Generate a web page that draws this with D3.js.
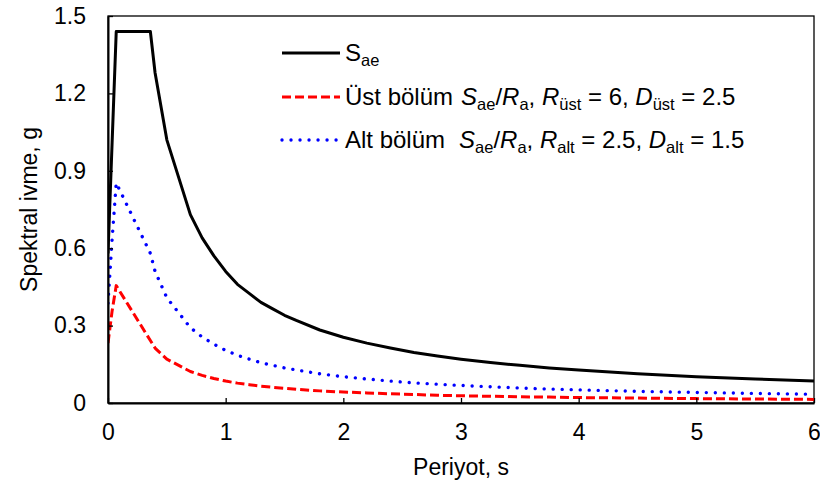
<!DOCTYPE html>
<html>
<head>
<meta charset="utf-8">
<script src="https://cdn.jsdelivr.net/npm/d3@7"></script>
<style>
  html, body { margin: 0; padding: 0; background: #fff; }
  text { font-family: "Liberation Sans", Arial, sans-serif; }
</style>
</head>
<body>
<div id="chart"></div>
<script>
const width = 820;
const height = 485;

// periyot (s)
const periods = [0, 0.035, 0.07, 0.36, 0.4, 0.5, 0.7, 0.8, 0.9, 1.0, 1.1, 1.2, 1.3, 1.4, 1.5, 1.6,
  1.8, 2.0, 2.2, 2.4, 2.6, 2.8, 3.0, 3.25, 3.5, 3.75, 4.0, 4.5, 5.0, 5.5, 6.0];

// Sae
const sae = [0.58, 1.01, 1.44, 1.44, 1.28, 1.02, 0.73, 0.64, 0.57, 0.51, 0.46, 0.425, 0.39, 0.365, 0.34, 0.32,
  0.283, 0.255, 0.232, 0.213, 0.196, 0.182, 0.17, 0.157, 0.146, 0.136, 0.128, 0.113, 0.102, 0.093, 0.085];

// Üst bölüm Sae/Ra
const ust = [0.232, 0.357, 0.455, 0.242, 0.213, 0.17, 0.122, 0.107, 0.095, 0.085, 0.077, 0.071, 0.065, 0.061, 0.057, 0.053,
  0.047, 0.0425, 0.039, 0.0355, 0.033, 0.030, 0.028, 0.026, 0.024, 0.023, 0.021, 0.019, 0.017, 0.0155, 0.014];

// Alt bölüm Sae/Ra
const alt = [0.387, 0.635, 0.853, 0.58, 0.51, 0.408, 0.292, 0.256, 0.228, 0.204, 0.185, 0.17, 0.156, 0.146, 0.136, 0.128,
  0.113, 0.102, 0.093, 0.085, 0.078, 0.073, 0.068, 0.063, 0.058, 0.054, 0.051, 0.045, 0.041, 0.037, 0.034];

const xTicks = [0, 1, 2, 3, 4, 5, 6];
const xTickLabels = ["0", "1", "2", "3", "4", "5", "6"];
const yTicks = [0, 0.3, 0.6, 0.9, 1.2, 1.5];
const yTickLabels = ["0", "0.3", "0.6", "0.9", "1.2", "1.5"];

// legend metinleri (parça parça: italik / alt indis / sabit x)
const legendRows = [
  [{ t: "S" }, { t: "ae", sub: true }],
  [{ t: "Üst bölüm" }, { t: "S", i: true, at: 461 }, { t: "ae", sub: true }, { t: "/" }, { t: "R", i: true }, { t: "a", sub: true },
   { t: ", " }, { t: "R", i: true }, { t: "üst", sub: true }, { t: " = 6, " }, { t: "D", i: true }, { t: "üst", sub: true }, { t: " = 2.5" }],
  [{ t: "Alt bölüm" }, { t: "S", i: true, at: 459 }, { t: "ae", sub: true }, { t: "/" }, { t: "R", i: true }, { t: "a", sub: true },
   { t: ", " }, { t: "R", i: true }, { t: "alt", sub: true }, { t: " = 2.5, " }, { t: "D", i: true }, { t: "alt", sub: true }, { t: " = 1.5" }]
];

const series = [
  { values: sae, color: "#000000", dash: null, cap: "butt", w: 3 },
  { values: ust, color: "#ff0000", dash: "9 4", cap: "butt", w: 3 },
  { values: alt, color: "#0000ff", dash: "0.01 9", cap: "round", w: 3.4 }
];

const fs = 23;
const legendFs = 24;
const subFs = 16.5;
const margin = { left: 108, right: 6, top: 16, bottom: 82 };
const plotW = width - margin.left - margin.right;
const plotH = height - margin.top - margin.bottom;

const svg = d3.select("#chart")
  .append("svg")
  .attr("width", width)
  .attr("height", height);

const x = d3.scaleLinear().domain([0, 6]).range([margin.left, margin.left + plotW]);
const y = d3.scaleLinear().domain([0, 1.5]).range([margin.top + plotH, margin.top]);

// çerçeve
svg.append("rect")
  .attr("x", margin.left)
  .attr("y", margin.top)
  .attr("width", plotW)
  .attr("height", plotH)
  .attr("fill", "none")
  .attr("stroke", "#000")
  .attr("stroke-width", 1.3);

svg.append("clipPath").attr("id", "clip")
  .append("rect")
  .attr("x", margin.left)
  .attr("y", margin.top)
  .attr("width", plotW)
  .attr("height", plotH);

// eğriler
const line = d3.line()
  .x((d, i) => x(periods[i]))
  .y(d => y(d));

const curves = svg.append("g").attr("clip-path", "url(#clip)");
series.forEach(s => {
  curves.append("path")
    .attr("d", line(s.values))
    .attr("fill", "none")
    .attr("stroke", s.color)
    .attr("stroke-width", s.w)
    .attr("stroke-linecap", s.cap)
    .attr("stroke-linejoin", "round")
    .attr("stroke-dasharray", s.dash);
});

// eksenler
const xAxis = d3.axisBottom(x)
  .tickValues(xTicks)
  .tickFormat((d, i) => xTickLabels[i])
  .tickSizeInner(-5)
  .tickSizeOuter(0)
  .tickPadding(21);

const yAxis = d3.axisLeft(y)
  .tickValues(yTicks)
  .tickFormat((d, i) => yTickLabels[i])
  .tickSizeInner(-5)
  .tickSizeOuter(0)
  .tickPadding(22);

const gx = svg.append("g")
  .attr("transform", `translate(0,${margin.top + plotH})`)
  .call(xAxis);

const gy = svg.append("g")
  .attr("transform", `translate(${margin.left},0)`)
  .call(yAxis);

[gx, gy].forEach(g => {
  g.select(".domain").attr("stroke", "#000").attr("stroke-width", 2);
  g.selectAll(".tick line").attr("stroke", "#000").attr("stroke-width", 1.3);
  g.selectAll(".tick text")
    .attr("fill", "#000")
    .attr("font-size", fs)
    .attr("font-family", "Liberation Sans, Arial, sans-serif");
});

// eksen başlıkları
svg.append("text")
  .attr("x", margin.left + plotW / 2)
  .attr("y", 475)
  .attr("text-anchor", "middle")
  .attr("font-size", fs)
  .text("Periyot, s");

svg.append("text")
  .attr("transform", `translate(37,${margin.top + plotH / 2}) rotate(-90)`)
  .attr("text-anchor", "middle")
  .attr("font-size", fs)
  .text("Spektral ivme, g");

// legend
const legendY = [53, 97, 140];
const legend = svg.append("g");
legendRows.forEach((parts, k) => {
  const s = series[k];
  legend.append("line")
    .attr("x1", 282)
    .attr("x2", 340)
    .attr("y1", legendY[k])
    .attr("y2", legendY[k])
    .attr("stroke", s.color)
    .attr("stroke-width", s.w)
    .attr("stroke-linecap", s.cap)
    .attr("stroke-dasharray", s.dash);

  const t = legend.append("text")
    .attr("x", 345)
    .attr("y", legendY[k] + 8)
    .attr("font-size", legendFs)
    .style("white-space", "pre");

  let down = false;
  parts.forEach(p => {
    const ts = t.append("tspan").text(p.t);
    if (p.at) ts.attr("x", p.at);
    if (p.i) ts.attr("font-style", "italic");
    if (p.sub) {
      ts.attr("font-size", subFs);
      if (!down) { ts.attr("dy", 5); down = true; }
    } else if (down) {
      ts.attr("dy", -5);
      down = false;
    }
  });
});
</script>
</body>
</html>
